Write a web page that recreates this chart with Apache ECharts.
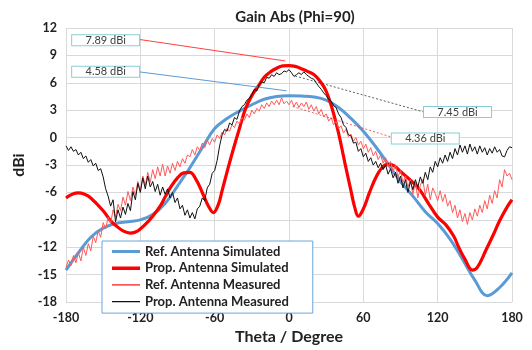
<!DOCTYPE html>
<html>
<head>
<meta charset="utf-8">
<script src="https://cdn.jsdelivr.net/npm/echarts@6/dist/echarts.min.js"></script>
<style>
  html, body { margin: 0; padding: 0; background: #ffffff; }
  #chart { width: 532px; height: 350px; }
</style>
</head>
<body>
<div id="chart"></div>
<script>
// Reference antenna, simulated gain (dBi) against theta (degree)
const refSimTheta = [-180,-170,-160,-150,-140,-130,-120,-110,-100,-90,-80,-70,-60,-50,-40,-30,-20,-10,0,
  10,20,30,40,50,60,70,80,90,100,110,120,130,140,150,160,170,180];
const refSimGain = [-14.5,-12.6,-10.9,-9.9,-9.4,-9.2,-9.0,-8.4,-7.2,-5.3,-3.3,-1.1,1.0,2.1,2.9,3.6,4.2,4.5,4.58,
  4.55,4.45,4.1,3.3,2.1,0.7,-1.0,-2.9,-4.8,-6.4,-8.1,-9.4,-11.1,-13.3,-15.6,-17.3,-16.4,-14.8];

// Proposed antenna, simulated gain
const propSimTheta = [-180,-175,-170,-165,-160,-150,-144,-140,-134,-128,-122,-116,-110,-104,-100,-95,-90,-85,-80,-75,
  -70,-65,-61,-57,-54,-50,-45,-40,-35,-30,-25,-20,-15,-10,-5,0,5,10,15,20,25,30,35,40,45,50,53,56,60,65,70,75,80,85,90,
  100,106,113,120,127,133,137,142,148,152,159,165,170,176,180];
const propSimGain = [-6.6,-6.2,-6.05,-6.2,-6.6,-8.0,-9.1,-9.6,-10.2,-10.45,-10.2,-9.5,-8.6,-7.5,-6.5,-5.3,-4.4,-3.85,-3.8,-4.6,
  -6.0,-7.5,-8.2,-7.3,-5.8,-3.75,-1.3,1.0,3.2,4.6,5.6,6.6,7.2,7.6,7.85,7.89,7.8,7.55,7.25,6.9,6.2,5.1,3.1,0.5,-2.7,-5.8,-7.6,-8.6,-7.8,-6.0,-4.4,-3.3,-2.9,-3.1,-3.7,
  -4.9,-5.8,-7.3,-8.7,-9.6,-10.8,-12.0,-13.3,-14.5,-14.2,-12.3,-10.6,-9.1,-7.6,-6.8];

// Measured patterns are sampled every 2 degrees from -180 to 180
const measStart = -180;
const measStep = 2;

// Reference antenna, measured gain
const refMeasGain = [
  -14.2,-13.4,-14.0,-12.9,-13.7,-12.6,-13.5,-12.0,-12.9,-11.6,
  -12.4,-10.8,-11.5,-10.2,-10.9,-9.3,-10.0,-8.7,-9.4,-7.9,
  -8.7,-7.3,-8.0,-6.5,-7.4,-5.9,-6.9,-5.4,-6.3,-4.8,
  -5.8,-4.2,-5.2,-3.8,-4.9,-3.5,-4.5,-3.2,-4.2,-2.9,
  -4.2,-3.1,-3.9,-2.8,-3.6,-2.6,-3.2,-2.3,-2.8,-1.9,
  -2.1,-1.3,-1.9,-1.0,-1.4,-0.6,-1.1,-0.3,-0.8,-0.1,
  -0.5,0.3,-0.1,0.6,0.3,1.0,0.7,1.4,1.1,1.8,
  1.5,2.2,1.9,2.6,2.2,3.0,2.6,3.2,2.9,3.6,
  3.2,3.8,3.4,4.0,3.6,4.1,3.6,4.36,3.7,4.0,
  3.6,4.1,3.4,3.9,3.3,3.8,3.4,3.9,3.1,3.6,
  2.9,3.4,2.6,3.1,2.3,2.6,1.8,2.2,1.4,1.8,
  1.0,1.3,0.5,0.9,0.1,0.4,-0.4,0.0,-0.8,-0.4,
  -1.2,-0.7,-1.6,-1.1,-2.0,-1.5,-2.4,-1.9,-2.8,-2.2,
  -3.2,-2.6,-3.7,-3.0,-4.3,-3.6,-4.9,-4.2,-5.4,-4.6,
  -6.2,-4.9,-6.6,-5.2,-4.6,-6.3,-5.1,-6.8,-5.5,-6.1,
  -6.9,-5.8,-7.0,-6.2,-7.5,-6.9,-8.2,-7.4,-8.8,-7.9,
  -9.2,-8.3,-9.5,-8.2,-9.0,-7.8,-8.6,-7.4,-8.2,-6.9,
  -7.8,-6.3,-7.2,-5.8,-6.6,-4.6,-5.4,-3.5,-4.2,-3.9,
  -4.6
];

// Proposed antenna, measured gain
const propMeasGain = [
  -0.9,-1.4,-1.0,-1.5,-1.3,-1.9,-1.6,-2.3,-2.0,-2.7,
  -2.4,-3.1,-2.8,-3.6,-3.4,-4.3,-5.6,-6.4,-7.5,-6.8,
  -9.2,-7.9,-8.8,-7.6,-8.4,-7.2,-8.0,-5.9,-6.8,-5.0,
  -6.0,-4.4,-5.6,-4.2,-5.4,-4.8,-5.9,-5.1,-6.3,-5.4,
  -6.2,-5.6,-6.6,-6.0,-7.1,-6.6,-7.8,-7.4,-8.5,-7.9,
  -8.8,-8.2,-8.9,-7.8,-7.5,-6.6,-6.9,-5.5,-5.1,-3.9,
  -3.6,-2.5,-0.9,0.3,0.9,0.7,1.6,1.4,2.2,2.0,
  2.9,3.4,3.6,4.1,4.3,4.7,5.3,5.1,5.8,6.1,
  6.0,6.6,6.5,6.9,6.7,7.1,6.9,7.0,7.3,7.2,
  7.45,7.1,6.7,6.9,7.1,6.9,7.2,6.9,6.7,6.5,
  6.4,6.0,5.6,5.3,4.9,4.6,4.2,4.0,3.5,3.3,
  2.6,2.2,1.4,1.1,0.3,0.2,-0.6,-0.5,-1.5,-1.2,
  -2.1,-1.7,-2.6,-2.2,-3.0,-2.6,-3.3,-2.8,-3.5,-3.0,
  -4.0,-3.4,-4.4,-3.8,-5.0,-4.2,-5.5,-4.6,-6.0,-4.8,
  -5.7,-4.6,-5.4,-4.3,-5.0,-3.8,-4.6,-3.2,-3.8,-2.6,
  -3.2,-2.2,-2.8,-1.9,-2.6,-1.6,-2.3,-1.2,-1.9,-0.8,
  -1.6,-0.9,-1.8,-0.7,-1.5,-1.0,-1.8,-0.9,-1.6,-1.1,
  -1.9,-1.2,-1.7,-1.0,-1.6,-1.3,-2.0,-2.1,-1.4,-1.0,
  -1.1
];

const seriesNames = ['Ref. Antenna Simulated', 'Prop. Antenna Simulated', 'Ref. Antenna Measured', 'Prop. Antenna Measured'];
const xTicks = { min: -180, max: 180, step: 60 };
const yTicks = { min: -18, max: 12, step: 3 };

const pairs = (xs, ys) => ys.map((v, i) => [xs[i], v]);
const measPairs = ys => ys.map((v, i) => [measStart + i * measStep, v]);
const peak = ys => Math.max.apply(null, ys);
const dbi = v => v.toFixed(2) + ' dBi';

const FONT = 'Lato, "Open Sans", sans-serif';
const C_BLUE = '#5b9bd5';
const C_RED = '#ff0000';
const C_PINK = '#ff5a5a';
const C_BLACK = '#111111';

// Legend swatch: a horizontal bar of the given thickness inside a 28x12 frame
// (two hair-thin corner specks fix the frame so the bar is not stretched)
const swatch = t => {
  const y0 = (12 - t) / 2;
  return 'path://M0,0h0.05v0.05h-0.05z M27.95,11.95h0.05v0.05h-0.05z M0,' + y0 + 'h28v' + t + 'h-28z';
};
const swatchWidth = [3, 3.4, 1.6, 1.4];

// Peak-value call-out boxes: an invisible anchor with a boxed label
const boxLabel = {
  show: true, position: 'inside', formatter: '{b}',
  color: '#404040', fontSize: 11, fontFamily: FONT,
  backgroundColor: '#ffffff', borderColor: '#86cfd8', borderWidth: 1,
  width: 61, height: 10, lineHeight: 10, align: 'center', padding: [0, 3]
};
const box = (name, coord) => ({
  name: name, coord: coord, symbol: 'rect', symbolSize: 1,
  itemStyle: { color: 'rgba(0,0,0,0)' }, label: boxLabel
});

const refPk = peak(refSimGain), propPk = peak(propSimGain);
const refMPk = peak(refMeasGain), propMPk = peak(propMeasGain);

const chart = echarts.init(document.getElementById('chart'), null, { renderer: 'canvas' });
chart.setOption({
  backgroundColor: '#ffffff',
  animation: false,
  title: {
    text: 'Gain Abs (Phi=90)', left: 290, top: 5, textAlign: 'center',
    textStyle: { fontFamily: FONT, fontSize: 15, fontWeight: 'bold', color: '#222' }
  },
  grid: { left: 66, right: 20, top: 28, bottom: 42, containLabel: false },
  legend: {
    orient: 'vertical', left: 102, top: 241,
    data: seriesNames.map((n, i) => ({ name: n, icon: swatch(swatchWidth[i]) })),
    itemWidth: 28, itemHeight: 12, itemGap: 3.7,
    padding: [4, 24, 5, 10],
    backgroundColor: '#ffffff', borderColor: '#6aa6dc', borderWidth: 1,
    textStyle: { fontFamily: FONT, fontSize: 13, fontWeight: 'bold', color: '#222' }
  },
  xAxis: {
    type: 'value', min: xTicks.min, max: xTicks.max, interval: xTicks.step,
    name: 'Theta / Degree', nameLocation: 'middle', nameGap: 24,
    nameTextStyle: { fontFamily: FONT, fontSize: 16, fontWeight: 'bold', color: '#222' },
    axisLine: { show: false }, axisTick: { show: false },
    axisLabel: { fontFamily: FONT, fontSize: 12.5, fontWeight: 'bold', color: '#222', margin: 9 },
    splitLine: { show: true, lineStyle: { color: '#d9d9d9', width: 1 } }
  },
  yAxis: {
    type: 'value', min: yTicks.min, max: yTicks.max, interval: yTicks.step,
    name: 'dBi', nameLocation: 'middle', nameGap: 36, nameRotate: 90,
    nameTextStyle: { fontFamily: FONT, fontSize: 16, fontWeight: 'bold', color: '#222' },
    axisLine: { show: false }, axisTick: { show: false },
    axisLabel: { fontFamily: FONT, fontSize: 12.5, fontWeight: 'bold', color: '#222', margin: 9 },
    splitLine: { show: true, lineStyle: { color: '#d9d9d9', width: 1 } }
  },
  series: [
    {
      name: seriesNames[0], type: 'line', data: pairs(refSimTheta, refSimGain),
      smooth: 0.4, symbol: 'none', color: C_BLUE, lineStyle: { width: 3, color: C_BLUE }, z: 2,
      markLine: {
        silent: true, symbol: ['none', 'arrow'], symbolSize: [0, 7],
        label: { show: false },
        lineStyle: { color: C_BLUE, width: 1, type: 'solid' },
        data: [[{ coord: [-121, 7.2] }, { coord: [-2, refPk + 0.55] }]]
      }
    },
    {
      name: seriesNames[1], type: 'line', data: pairs(propSimTheta, propSimGain),
      smooth: 0.4, symbol: 'none', color: C_RED, lineStyle: { width: 3.2, color: C_RED }, z: 3,
      markLine: {
        silent: true, symbol: ['none', 'arrow'], symbolSize: [0, 7],
        label: { show: false },
        lineStyle: { color: '#ff4040', width: 1, type: 'solid' },
        data: [[{ coord: [-121, 10.75] }, { coord: [-3, propPk + 0.5] }]]
      }
    },
    {
      name: seriesNames[2], type: 'line', data: measPairs(refMeasGain),
      symbol: 'none', color: C_PINK, lineStyle: { width: 1, color: C_PINK }, z: 4,
      markLine: {
        silent: true, symbol: ['circle', 'none'], symbolSize: [3, 0],
        label: { show: false },
        lineStyle: { color: '#ff3030', width: 0.8, type: [2, 2] },
        data: [[{ coord: [3, refMPk - 0.95] }, { coord: [83, 0.05] }]]
      }
    },
    {
      name: seriesNames[3], type: 'line', data: measPairs(propMeasGain),
      symbol: 'none', color: C_BLACK, lineStyle: { width: 1, color: C_BLACK }, z: 5,
      markLine: {
        silent: true, symbol: ['circle', 'none'], symbolSize: [3, 0],
        label: { show: false },
        lineStyle: { color: '#333333', width: 0.8, type: [2, 2] },
        data: [[{ coord: [5, propMPk - 0.7] }, { coord: [109, 2.8] }]]
      },
      markPoint: {
        silent: true,
        data: [
          box(dbi(propPk), [-148, 10.66]),
          box(dbi(refPk), [-148, 7.2]),
          box(dbi(propMPk), [136, 2.8]),
          box(dbi(refMPk), [110, -0.1])
        ]
      }
    }
  ]
});
</script>
</body>
</html>
